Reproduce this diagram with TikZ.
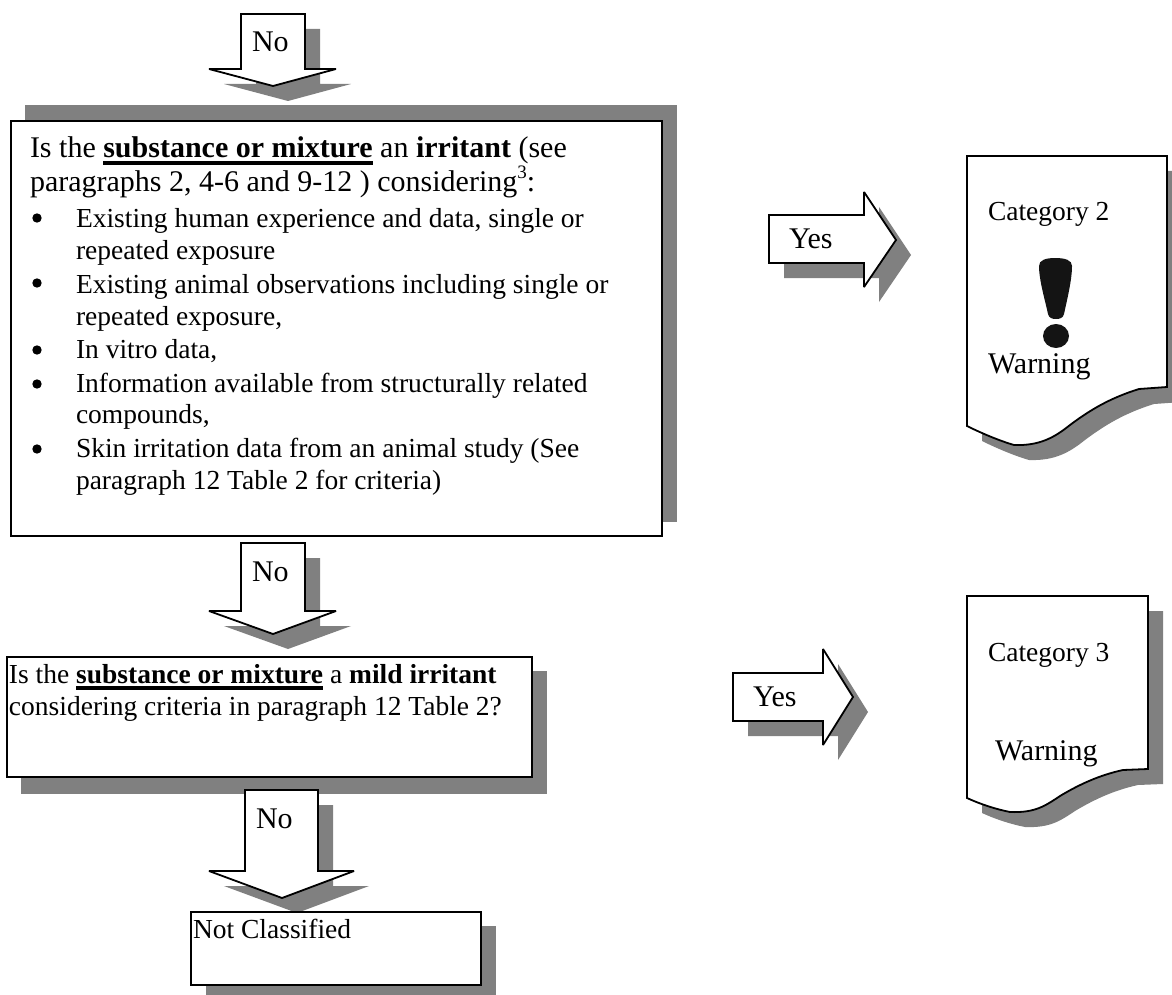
\documentclass[tikz,border=0pt]{standalone}
\usepackage{fontspec}
\setmainfont{Liberation Serif}
\newcommand{\heavyul}[1]{\setbox0=\hbox{#1}\rlap{\copy0}\rule[-7pt]{\wd0}{3.6pt}}
\newcommand{\castshape}[3]{%
  \fill[castshadow,shift={(#1,#2)}] #3;
  \draw[outlined] #3;}
\tikzset{
  castshadow/.style={fill=shadowgray,draw=none},
  outlined/.style={draw=black,fill=white,line width=1.8pt,line join=miter,miter limit=3},
  txt/.style={anchor=base west,inner sep=0pt,outer sep=0pt,font=\fontsize{27.5}{33}\selectfont,text=black},
  bigtxt/.style={txt,font=\fontsize{30}{33}\selectfont},
  dotmark/.style={fill=black}
}
\definecolor{shadowgray}{HTML}{808080}
\begin{document}
\begin{tikzpicture}[x=1pt,y=-1pt]
\clip (0,0) rectangle (1172,995);
\fill[white] (0,0) rectangle (1172,995);
% arrows and boxes
\castshape{15}{15}{(241,14) -- (305,14) -- (305,69) -- (336,69) -- (273,86) -- (209,69) -- (241,69) -- cycle}
\fill[castshadow] (25,105) rectangle (677,522);
\draw[outlined] (11,121) rectangle (662,536);
\castshape{15}{15}{(241,543) -- (305,543) -- (305,611) -- (336,611) -- (273,634) -- (209,611) -- (241,611) -- cycle}
\fill[castshadow] (21,671) rectangle (547,794);
\draw[outlined] (7,657) rectangle (532,777);
\castshape{15}{15}{(245,790) -- (318,790) -- (318,871) -- (354,871) -- (282,898) -- (209,871) -- (245,871) -- cycle}
\castshape{15}{14}{(191,912) rectangle (481,985)}
\castshape{15}{15}{(769,215) -- (864,215) -- (864,192) -- (896,240) -- (864,287) -- (864,263) -- (769,263) -- cycle}
\castshape{15}{15}{(733,673) -- (823,673) -- (823,649) -- (853,697) -- (823,745) -- (823,721) -- (733,721) -- cycle}
\castshape{15}{15}{(967,156) -- (1167,156) -- (1167,387) -- (1139,389) .. controls (1110,398) and (1090,410) .. (1070,425) .. controls (1055,437) and (1040,446) .. (1014,445) .. controls (1000,441) and (981,433) .. (967,426) -- cycle}
\castshape{15}{15}{(967,596) -- (1148,596) -- (1148,769) -- (1123,770) .. controls (1100,775) and (1080,784) .. (1060,796) .. controls (1045,806) and (1035,813) .. (1010,812) .. controls (995,809) and (980,804) .. (967,798) -- cycle}
% exclamation mark
\fill[fill=black!92] (1039,266) .. controls (1039,260) and (1046,258) .. (1055,258) .. controls (1065,258) and (1072,260) .. (1072,266) .. controls (1072,280) and (1067,300) .. (1064,314) .. controls (1063,318) and (1060,319) .. (1056,319) .. controls (1052,319) and (1049,318) .. (1048,314) .. controls (1045,300) and (1039,280) .. (1039,266) -- cycle;
\fill[fill=black!92] (1056,336) ellipse [x radius=13,y radius=12];
% bullets
\fill[dotmark] (37,218) circle (4.7);
\fill[dotmark] (37,283) circle (4.7);
\fill[dotmark] (37,350) circle (4.7);
\fill[dotmark] (37,384) circle (4.7);
\fill[dotmark] (37,449) circle (4.7);
% texts
\node[bigtxt] (no1) at (252,52) {No};
\node[bigtxt] (no2) at (252,581) {No};
\node[bigtxt] (no3) at (256,828) {No};
\node[bigtxt] (l1) at (30,158) {Is the \heavyul{\textbf{substance or mixture}} an \textbf{irritant} (see};
\node[bigtxt] (l2) at (30,192) {paragraphs 2, 4-6 and 9-12 ) considering\raisebox{13pt}{\fontsize{19}{19}\selectfont 3}:};
\node[txt] (l3) at (76,227) {Existing human experience and data, single or};
\node[txt] (l4) at (76,259) {repeated exposure};
\node[txt] (l5) at (76,293) {Existing animal observations including single or};
\node[txt] (l6) at (76,325) {repeated exposure,};
\node[txt] (l7) at (76,358) {In vitro data,};
\node[txt] (l8) at (76,392) {Information available from structurally related};
\node[txt] (l9) at (76,423) {compounds,};
\node[txt] (l10) at (76,457) {Skin irritation data from an animal study (See};
\node[txt] (l11) at (76,489) {paragraph 12 Table 2 for criteria)};
\node[txt] (m1) at (9,683) {Is the \heavyul{\textbf{substance or mixture}} a \textbf{mild irritant}};
\node[txt] (m2) at (9,715) {considering criteria in paragraph 12 Table 2?};
\node[txt] (nc) at (193,938) {Not Classified};
\node[bigtxt] (yes1) at (789,248) {Yes};
\node[bigtxt] (yes2) at (753,706) {Yes};
\node[txt] (cat2) at (988,221) {Category 2};
\node[bigtxt] (warn2) at (988,373) {Warning};
\node[txt] (cat3) at (988,661) {Category 3};
\node[bigtxt] (warn3) at (995,760) {Warning};
\end{tikzpicture}
\end{document}
